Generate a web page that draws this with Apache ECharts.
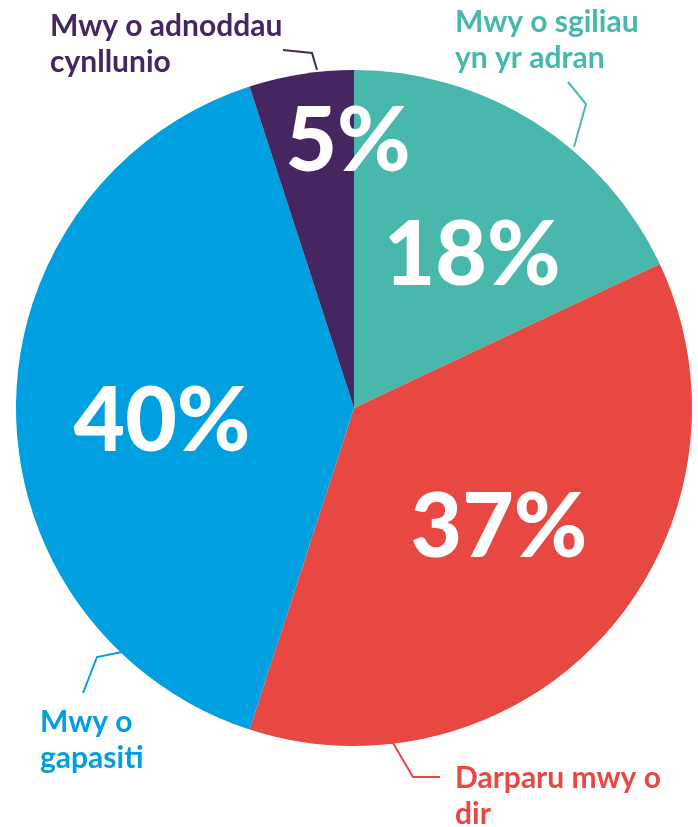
<!DOCTYPE html>
<html>
<head>
<meta charset="utf-8">
<script src="https://cdn.jsdelivr.net/npm/echarts@6/dist/echarts.min.js"></script>
<style>
html, body { margin: 0; padding: 0; background: #fff; }
#main { width: 698px; height: 827px; }
</style>
</head>
<body>
<div id="main"></div>
<script>
var names = ['Mwy o sgiliau\nyn yr adran', 'Darparu mwy o\ndir', 'Mwy o\ngapasiti', 'Mwy o adnoddau\ncynllunio'];
var values = [18, 37, 40, 5];
var colors = ['#47b8ab', '#e84842', '#009fe0', '#452661'];

// nudges for the big % labels inside each slice
var innerShift = [[26, -6], [16, 7], [-20, 14], [21, -96]];
// where the outer labels sit and how their lines bend
var outerPos = [
    { x: 455, y: 4, line: [[574, 147], [586, 104], [568, 82]] },
    { x: 455, y: 760, line: [[393, 743], [413, 777], [440, 777]] },
    { x: 40, y: 704, line: [[122, 652], [97, 657], [83, 693]] },
    { x: 50, y: 8, line: [[317, 70], [312, 53], [283, 50]] }
];

var data = [];
for (var i = 0; i < names.length; i++) {
    data.push({
        name: names[i],
        value: values[i],
        itemStyle: { color: colors[i] },
        label: { color: colors[i] },
        labelLine: { lineStyle: { color: colors[i] } }
    });
}

var myChart = echarts.init(document.getElementById('main'));

var option = {
    animation: false,
    series: [{
        type: 'pie',
        center: [354, 408],
        radius: 338,
        startAngle: 90,
        clockwise: true,
        silent: true,
        avoidLabelOverlap: false,
        data: data,
        itemStyle: { borderWidth: 0 },
        label: {
            show: true,
            position: 'outside',
            formatter: '{b}',
            fontFamily: 'Lato',
            fontWeight: 'bold',
            fontSize: 30,
            lineHeight: 36,
            align: 'left',
            overflow: 'none',
            width: 400
        },
        labelLine: {
            show: true,
            lineStyle: { width: 2 }
        },
        labelLayout: function(params) {
            var p = outerPos[params.dataIndex];
            return {
                x: p.x,
                y: p.y,
                align: 'left',
                verticalAlign: 'top',
                hideOverlap: false,
                labelLinePoints: p.line
            };
        }
    }, {
        type: 'pie',
        center: [354, 408],
        radius: 338,
        startAngle: 90,
        clockwise: true,
        silent: true,
        avoidLabelOverlap: false,
        data: values.map(function(v, i) {
            return { name: names[i], value: v };
        }),
        itemStyle: { color: 'rgba(0,0,0,0)' },
        label: {
            show: true,
            position: 'inside',
            formatter: '{c}%',
            color: '#fff',
            fontFamily: 'Lato',
            fontWeight: 900,
            fontSize: 89
        },
        labelLayout: function(params) {
            var s = innerShift[params.dataIndex];
            return { dx: s[0], dy: s[1] };
        }
    }]
};

myChart.setOption(option);
</script>
</body>
</html>
